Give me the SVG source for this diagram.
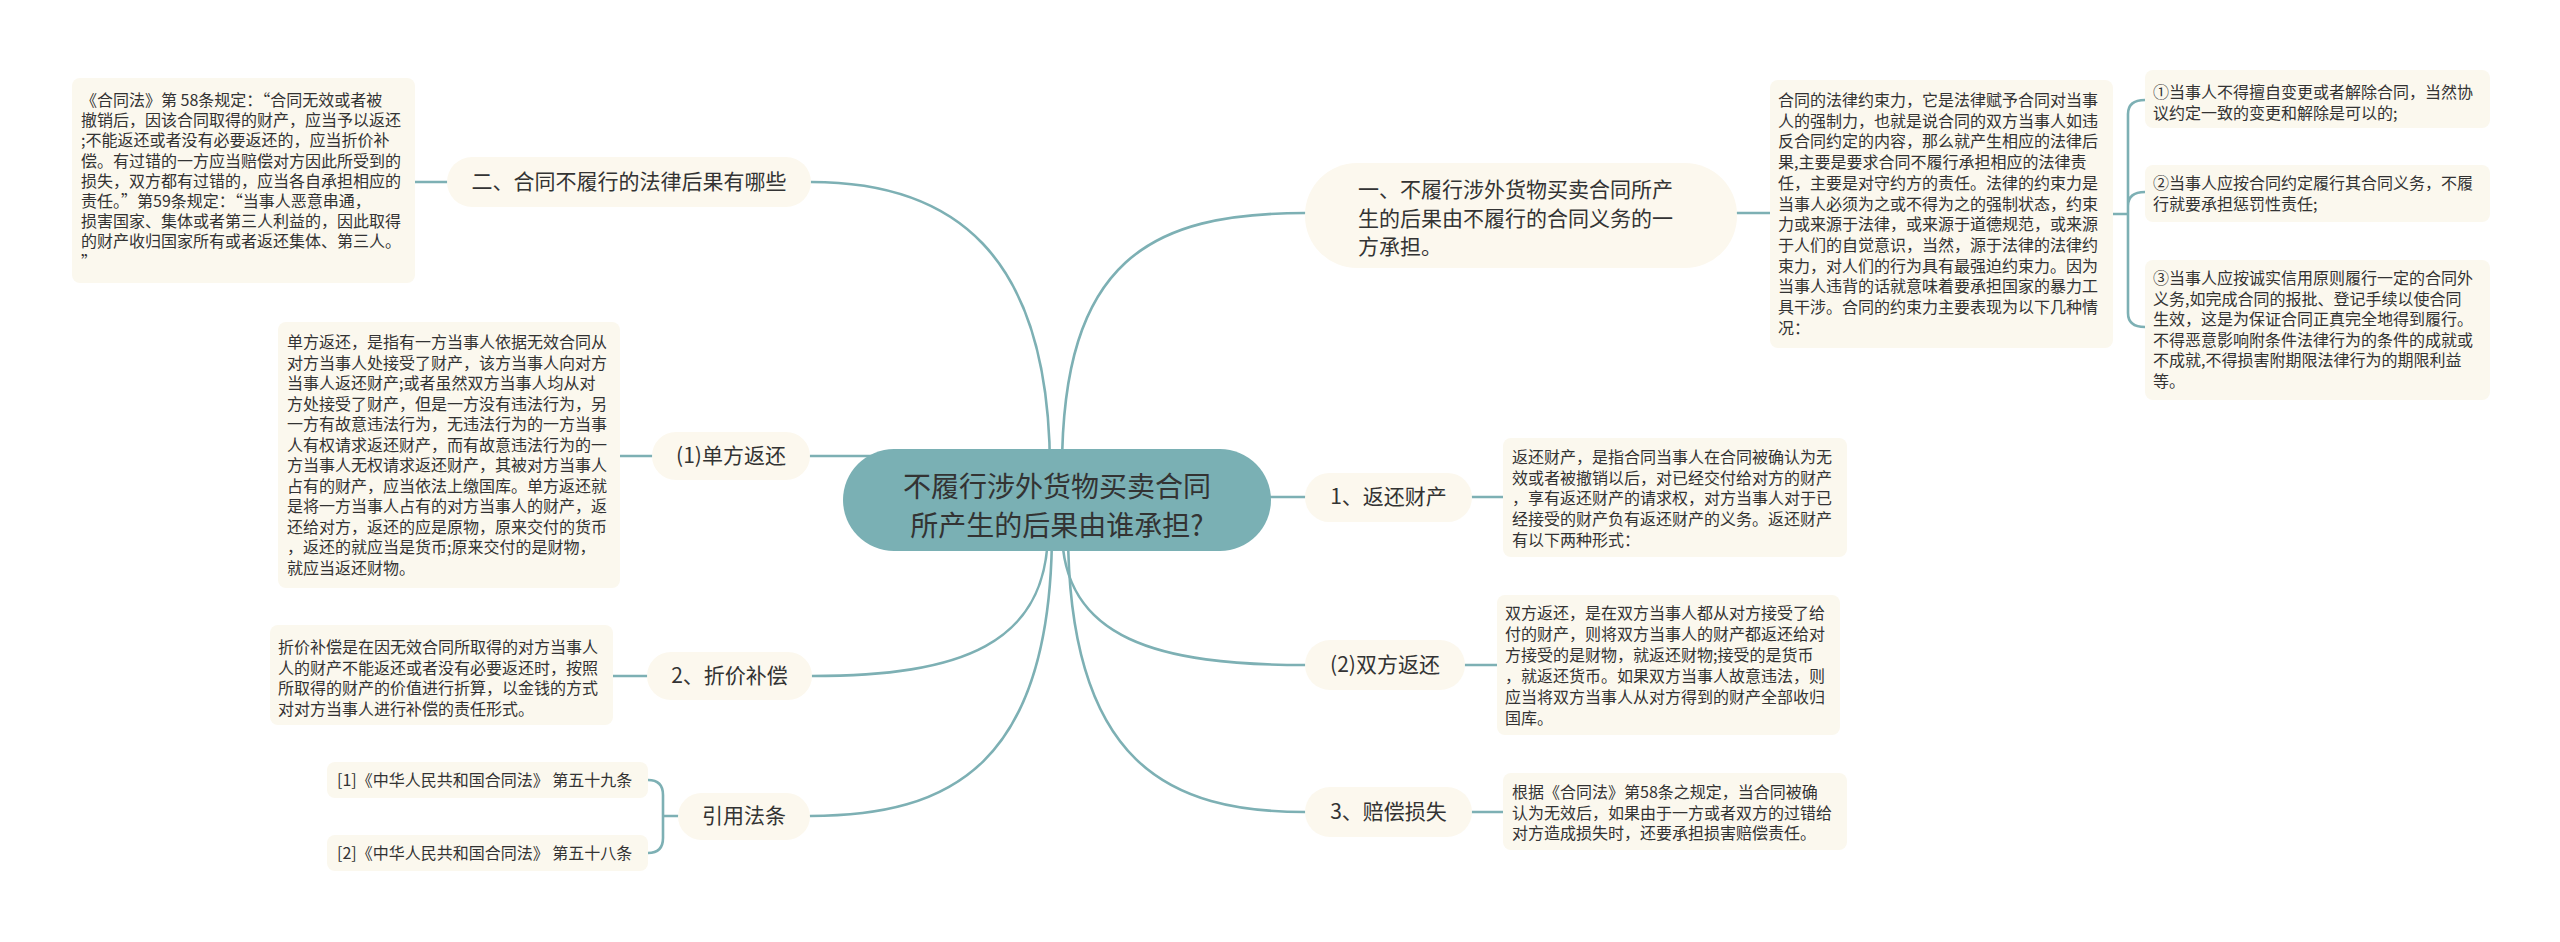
<svg xmlns="http://www.w3.org/2000/svg" width="2560" height="942" viewBox="0 0 2560 942">
<style>
.bg{fill:#ffffff}
.c{fill:none;stroke:#7db0b4;stroke-width:2.6;stroke-linecap:round}
.nd{fill:#fcf8ee}
.bx{fill:#fbf8ee}
.ctr{fill:#7ab0b4}
text{font-family:"Noto Sans CJK SC","Noto Sans",sans-serif;fill:#333333}
.t16{font-size:16px}
.t21{font-size:21px}
.t28{font-size:28px}
.mid{text-anchor:middle}
</style>
<rect class="bg" x="0" y="0" width="2560" height="942"/>
<g id="connectors">
<path class="c" d="M1050 470 C1050 250 950 182 811 182"/>
<path class="c" d="M1062 470 C1062 260 1150 213 1305 213"/>
<path class="c" d="M1048 530 C1048 645 960 676 812 676"/>
<path class="c" d="M1052 530 C1052 765 950 816 810 816"/>
<path class="c" d="M1062 530 C1062 640 1160 665 1305 665"/>
<path class="c" d="M1068 530 C1068 765 1170 812 1305 812"/>
<path class="c" d="M810 456 L880 456"/>
<path class="c" d="M1250 497 L1305 497"/>
<path class="c" d="M415 182 L447 182"/>
<path class="c" d="M620 456 L652 456"/>
<path class="c" d="M613 676 L647 676"/>
<path class="c" d="M678 816 L663 816 M663 816 L663 795 Q663 780 648 780 M663 816 L663 838 Q663 853 648 853"/>
<path class="c" d="M1737 213 L1770 213"/>
<path class="c" d="M2113 214 L2128 214 M2128 214 L2128 114 Q2128 100 2145 100 M2128 214 L2128 206 Q2128 192 2145 192 M2128 214 L2128 313 Q2128 327 2145 327"/>
<path class="c" d="M1472 497 L1503 497"/>
<path class="c" d="M1465 665 L1497 665"/>
<path class="c" d="M1472 812 L1503 812"/>
</g>
<g id="center">
<rect class="ctr" x="843" y="449" width="428" height="102" rx="51"/>
<text class="t28 mid" x="1057" y="497">不履行涉外货物买卖合同</text>
<text class="t28 mid" x="1057" y="536">所产生的后果由谁承担?</text>
</g>
<g id="n-er">
<rect class="nd" x="447" y="157" width="364" height="50" rx="25"/>
<text class="t21 mid" x="629" y="189">二、合同不履行的法律后果有哪些</text>
</g>
<g id="n-er-text">
<rect class="bx" x="72" y="78" width="343" height="205" rx="8"/>
<text class="t16" x="81" y="106">《合同法》第 58条规定：“合同无效或者被</text>
<text class="t16" x="81" y="126.2">撤销后，因该合同取得的财产，应当予以返还</text>
<text class="t16" x="81" y="146.4">;不能返还或者没有必要返还的，应当折价补</text>
<text class="t16" x="81" y="166.6">偿。有过错的一方应当赔偿对方因此所受到的</text>
<text class="t16" x="81" y="186.8">损失，双方都有过错的，应当各自承担相应的</text>
<text class="t16" x="81" y="207">责任。”第59条规定：“当事人恶意串通，</text>
<text class="t16" x="81" y="227.2">损害国家、集体或者第三人利益的，因此取得</text>
<text class="t16" x="81" y="247.4">的财产收归国家所有或者返还集体、第三人。</text>
<text class="t16" x="81" y="267.6">”</text>
</g>
<g id="n-danfang">
<rect class="nd" x="652" y="432" width="158" height="48" rx="24"/>
<text class="t21 mid" x="731" y="463">(1)单方返还</text>
</g>
<g id="n-danfang-text">
<rect class="bx" x="278" y="322" width="342" height="266" rx="8"/>
<text class="t16" x="287" y="348">单方返还，是指有一方当事人依据无效合同从</text>
<text class="t16" x="287" y="368.5">对方当事人处接受了财产，该方当事人向对方</text>
<text class="t16" x="287" y="389">当事人返还财产;或者虽然双方当事人均从对</text>
<text class="t16" x="287" y="409.5">方处接受了财产，但是一方没有违法行为，另</text>
<text class="t16" x="287" y="430">一方有故意违法行为，无违法行为的一方当事</text>
<text class="t16" x="287" y="450.5">人有权请求返还财产，而有故意违法行为的一</text>
<text class="t16" x="287" y="471">方当事人无权请求返还财产，其被对方当事人</text>
<text class="t16" x="287" y="491.5">占有的财产，应当依法上缴国库。单方返还就</text>
<text class="t16" x="287" y="512">是将一方当事人占有的对方当事人的财产，返</text>
<text class="t16" x="287" y="532.5">还给对方，返还的应是原物，原来交付的货币</text>
<text class="t16" x="287" y="553">，返还的就应当是货币;原来交付的是财物，</text>
<text class="t16" x="287" y="573.5">就应当返还财物。</text>
</g>
<g id="n-zhejia">
<rect class="nd" x="647" y="652" width="165" height="48" rx="24"/>
<text class="t21 mid" x="729.5" y="683">2、折价补偿</text>
</g>
<g id="n-zhejia-text">
<rect class="bx" x="270" y="625" width="343" height="100" rx="8"/>
<text class="t16" x="278" y="653">折价补偿是在因无效合同所取得的对方当事人</text>
<text class="t16" x="278" y="673.5">人的财产不能返还或者没有必要返还时，按照</text>
<text class="t16" x="278" y="694">所取得的财产的价值进行折算，以金钱的方式</text>
<text class="t16" x="278" y="714.5">对对方当事人进行补偿的责任形式。</text>
</g>
<g id="n-yinyong">
<rect class="nd" x="678" y="793" width="132" height="47" rx="23.5"/>
<text class="t21 mid" x="744" y="823">引用法条</text>
</g>
<g id="n-law1">
<rect class="bx" x="327" y="762" width="321" height="36" rx="8"/>
<text class="t16" x="337" y="786">[1]《中华人民共和国合同法》 第五十九条</text>
</g>
<g id="n-law2">
<rect class="bx" x="327" y="835" width="321" height="36" rx="8"/>
<text class="t16" x="337" y="859">[2]《中华人民共和国合同法》 第五十八条</text>
</g>
<g id="n-yi">
<rect class="nd" x="1305" y="163" width="432" height="105" rx="52"/>
<text class="t21" x="1358" y="197">一、不履行涉外货物买卖合同所产</text>
<text class="t21" x="1358" y="225.5">生的后果由不履行的合同义务的一</text>
<text class="t21" x="1358" y="254">方承担。</text>
</g>
<g id="n-yi-text">
<rect class="bx" x="1770" y="80" width="343" height="268" rx="8"/>
<text class="t16" x="1778" y="106">合同的法律约束力，它是法律赋予合同对当事</text>
<text class="t16" x="1778" y="126.7">人的强制力，也就是说合同的双方当事人如违</text>
<text class="t16" x="1778" y="147.4">反合同约定的内容，那么就产生相应的法律后</text>
<text class="t16" x="1778" y="168.1">果,主要是要求合同不履行承担相应的法律责</text>
<text class="t16" x="1778" y="188.8">任，主要是对守约方的责任。法律的约束力是</text>
<text class="t16" x="1778" y="209.5">当事人必须为之或不得为之的强制状态，约束</text>
<text class="t16" x="1778" y="230.2">力或来源于法律，或来源于道德规范，或来源</text>
<text class="t16" x="1778" y="250.9">于人们的自觉意识，当然，源于法律的法律约</text>
<text class="t16" x="1778" y="271.6">束力，对人们的行为具有最强迫约束力。因为</text>
<text class="t16" x="1778" y="292.3">当事人违背的话就意味着要承担国家的暴力工</text>
<text class="t16" x="1778" y="313">具干涉。合同的约束力主要表现为以下几种情</text>
<text class="t16" x="1778" y="333.7">况：</text>
</g>
<g id="n-item1">
<rect class="bx" x="2145" y="70" width="345" height="58" rx="8"/>
<text class="t16" x="2153" y="98">①当事人不得擅自变更或者解除合同，当然协</text>
<text class="t16" x="2153" y="118.5">议约定一致的变更和解除是可以的;</text>
</g>
<g id="n-item2">
<rect class="bx" x="2145" y="165" width="345" height="57" rx="8"/>
<text class="t16" x="2153" y="189">②当事人应按合同约定履行其合同义务，不履</text>
<text class="t16" x="2153" y="209.5">行就要承担惩罚性责任;</text>
</g>
<g id="n-item3">
<rect class="bx" x="2145" y="260" width="345" height="140" rx="8"/>
<text class="t16" x="2153" y="284">③当事人应按诚实信用原则履行一定的合同外</text>
<text class="t16" x="2153" y="304.5">义务,如完成合同的报批、登记手续以使合同</text>
<text class="t16" x="2153" y="325">生效，这是为保证合同正真完全地得到履行。</text>
<text class="t16" x="2153" y="345.5">不得恶意影响附条件法律行为的条件的成就或</text>
<text class="t16" x="2153" y="366">不成就,不得损害附期限法律行为的期限利益</text>
<text class="t16" x="2153" y="386.5">等。</text>
</g>
<g id="n-fanhuan">
<rect class="nd" x="1305" y="473" width="167" height="49" rx="24.5"/>
<text class="t21 mid" x="1388.5" y="504">1、返还财产</text>
</g>
<g id="n-fanhuan-text">
<rect class="bx" x="1503" y="438" width="344" height="119" rx="8"/>
<text class="t16" x="1512" y="463">返还财产，是指合同当事人在合同被确认为无</text>
<text class="t16" x="1512" y="483.7">效或者被撤销以后，对已经交付给对方的财产</text>
<text class="t16" x="1512" y="504.4">，享有返还财产的请求权，对方当事人对于已</text>
<text class="t16" x="1512" y="525.1">经接受的财产负有返还财产的义务。返还财产</text>
<text class="t16" x="1512" y="545.8">有以下两种形式：</text>
</g>
<g id="n-shuangfang">
<rect class="nd" x="1305" y="640" width="160" height="50" rx="25"/>
<text class="t21 mid" x="1385" y="672">(2)双方返还</text>
</g>
<g id="n-shuangfang-text">
<rect class="bx" x="1497" y="595" width="343" height="140" rx="8"/>
<text class="t16" x="1505" y="619">双方返还，是在双方当事人都从对方接受了给</text>
<text class="t16" x="1505" y="640">付的财产，则将双方当事人的财产都返还给对</text>
<text class="t16" x="1505" y="661">方接受的是财物，就返还财物;接受的是货币</text>
<text class="t16" x="1505" y="682">，就返还货币。如果双方当事人故意违法，则</text>
<text class="t16" x="1505" y="703">应当将双方当事人从对方得到的财产全部收归</text>
<text class="t16" x="1505" y="724">国库。</text>
</g>
<g id="n-peichang">
<rect class="nd" x="1305" y="787" width="167" height="50" rx="25"/>
<text class="t21 mid" x="1388.5" y="819">3、赔偿损失</text>
</g>
<g id="n-peichang-text">
<rect class="bx" x="1503" y="773" width="344" height="77" rx="8"/>
<text class="t16" x="1512" y="798">根据《合同法》第58条之规定，当合同被确</text>
<text class="t16" x="1512" y="818.5">认为无效后，如果由于一方或者双方的过错给</text>
<text class="t16" x="1512" y="839">对方造成损失时，还要承担损害赔偿责任。</text>
</g>
</svg>
